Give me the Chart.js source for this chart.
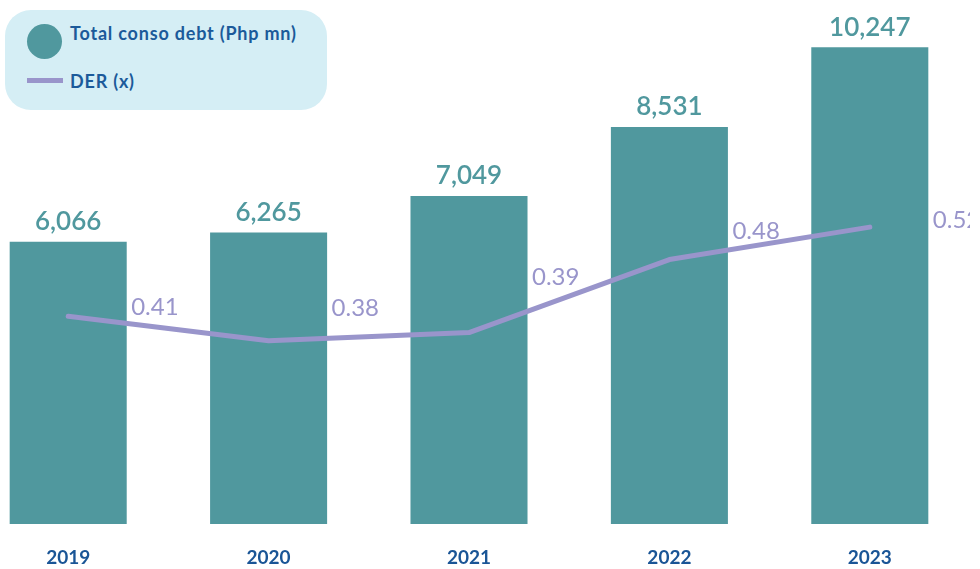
<!doctype html>
<html>

<head>
	<title>Total conso debt and DER</title>
	<script src="https://cdn.jsdelivr.net/npm/chart.js@4.4.1/dist/chart.umd.min.js"></script>
	<style>
		html, body {
			margin: 0;
			padding: 0;
			background: #fff;
			overflow: hidden;
		}
		#wrap {
			position: relative;
			width: 980px;
			height: 569px;
			overflow: hidden;
		}
		#chart {
			position: absolute;
			left: -32px;
			top: 0;
		}
		#legend {
			position: absolute;
			left: 5px;
			top: 10px;
			width: 322px;
			height: 100px;
			background: #d5eef5;
			border-radius: 26px;
			font-family: Lato, "Open Sans", sans-serif;
			font-weight: 700;
			font-size: 18px;
			letter-spacing: 0.8px;
			color: #1b5a9a;
		}
		.legend-key, .legend-text {
			position: absolute;
			display: block;
		}
		.legend-text {
			left: 65px;
			line-height: 20px;
			white-space: nowrap;
		}
	</style>
</head>

<body>
	<div id="wrap">
		<canvas id="chart" width="1002" height="592"></canvas>
		<div id="legend"></div>
	</div>
	<script>
		var years = ['2019', '2020', '2021', '2022', '2023'];
		var debt = [6066, 6265, 7049, 8531, 10247];
		var der = [0.41, 0.38, 0.39, 0.48, 0.52];

		var tealColor = '#50989e';
		var purpleColor = '#9995cb';

		// where each DER label sits relative to its point
		var derLabelDy = [-9, -32, -55, -28, -7];

		var valueLabels = {
			id: 'valueLabels',
			afterDatasetsDraw: function(chart) {
				var ctx = chart.ctx;
				ctx.save();

				// bar values
				var bars = chart.getDatasetMeta(0).data;
				ctx.fillStyle = tealColor;
				ctx.font = '600 26px Lato';
				ctx.textAlign = 'center';
				ctx.textBaseline = 'middle';
				bars.forEach(function(bar, i) {
					ctx.fillText(debt[i].toLocaleString('en-US'), bar.x, bar.y - 20);
				});

				// DER values
				var points = chart.getDatasetMeta(1).data;
				ctx.fillStyle = purpleColor;
				ctx.font = '400 24px Lato';
				ctx.textAlign = 'left';
				points.forEach(function(pt, i) {
					ctx.fillText(der[i].toFixed(2), pt.x + 63, pt.y + derLabelDy[i]);
				});
				ctx.restore();
			}
		};

		var buildLegend = function(chart) {
			var legendEl = document.getElementById('legend');
			var html = '';
			chart.data.datasets.forEach(function(ds) {
				if (ds.type === 'line') {
					html += '<span class="legend-key" style="left:22px;top:68px;width:36px;height:5px;background:' + ds.borderColor + '"></span>';
					html += '<span class="legend-text" style="top:61px">' + ds.label + '</span>';
				} else {
					html += '<span class="legend-key" style="left:22px;top:14px;width:35px;height:35px;border-radius:50%;background:' + ds.backgroundColor + '"></span>';
					html += '<span class="legend-text" style="top:13px">' + ds.label + '</span>';
				}
			});
			legendEl.innerHTML = html;
		};

		window.onload = function() {
			var chartEl = document.getElementById('chart');
			window.myChart = new Chart(chartEl, {
				data: {
					labels: years,
					datasets: [{
						type: 'bar',
						label: 'Total conso debt (Php mn)',
						data: debt,
						backgroundColor: tealColor,
						categoryPercentage: 1,
						barPercentage: 0.584,
						yAxisID: 'y',
						order: 2
					}, {
						type: 'line',
						label: 'DER (x)',
						data: der,
						borderColor: purpleColor,
						backgroundColor: purpleColor,
						borderWidth: 5,
						borderCapStyle: 'round',
						borderJoinStyle: 'round',
						pointRadius: 0,
						tension: 0,
						yAxisID: 'y2',
						order: 1
					}]
				},
				options: {
					responsive: false,
					animation: false,
					layout: {
						padding: 0
					},
					plugins: {
						legend: { display: false },
						tooltip: { enabled: false }
					},
					scales: {
						x: {
							grid: { display: false, drawTicks: false },
							border: { display: false },
							ticks: {
								color: '#1a5596',
								font: { family: 'Lato', size: 19, weight: 'bold' },
								padding: 22.6
							}
						},
						y: {
							display: false,
							min: 0,
							max: 11260
						},
						y2: {
							display: false,
							min: 0.154,
							max: 0.80
						}
					}
				},
				plugins: [valueLabels]
			});
			buildLegend(window.myChart);
		};
	</script>
</body>

</html>
